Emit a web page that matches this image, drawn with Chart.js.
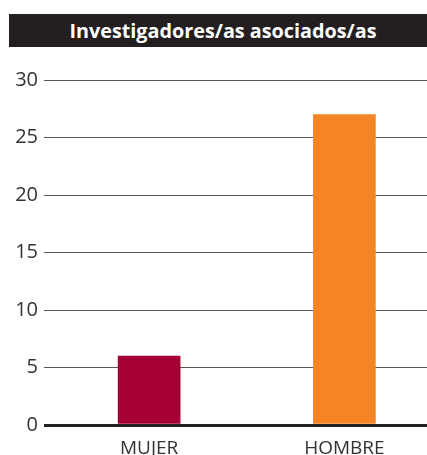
<!DOCTYPE html>
<html>
<head>
<meta charset="utf-8">
<script src="https://cdn.jsdelivr.net/npm/chart.js@4"></script>
<style>
  html, body { margin: 0; padding: 0; background: #fff; width: 427px; height: 455px; overflow: hidden; }
  .wrap { position: relative; width: 427px; height: 455px; overflow: hidden; }
  .title {
    position: absolute; left: 9px; top: 14px; width: 418px; height: 33px;
    background: #231f20; color: #fff; text-align: center;
    font: bold 19.8px "Open Sans", sans-serif; line-height: 33px; padding-left: 10px; box-sizing: border-box;
  }
  canvas { position: absolute; left: 0; top: 0; }
</style>
</head>
<body>
<div class="wrap">
  <div class="title">Investigadores/as asociados/as</div>
  <canvas id="myBarChart" width="442" height="470"></canvas>
</div>
<script>
const categories = ["MUJER", "HOMBRE"];
const values = [6, 27];
const barColors = ["#a50034", "#f48424"];
const yTicks = [0, 5, 10, 15, 20, 25, 30];

const ctx = document.getElementById("myBarChart").getContext("2d");

new Chart(ctx, {
  type: "bar",
  data: {
    labels: categories,
    datasets: [
      {
        data: values,
        backgroundColor: barColors,
        barThickness: 62,
      },
    ],
  },
  options: {
    responsive: false,
    animation: false,
    layout: { padding: { top: 80, right: 0, bottom: 0, left: 0 } },
    plugins: {
      legend: { display: false },
      tooltip: { enabled: false },
    },
    scales: {
      x: {
        grid: { display: false },
        border: { display: false },
        ticks: {
          color: "#333",
          padding: 4.5,
          font: { family: "Open Sans", size: 19 },
        },
        afterFit: (scale) => {
          scale.height = 45;
        },
      },
      y: {
        min: 0,
        max: 30,
        afterBuildTicks: (scale) => {
          scale.ticks = yTicks.map((v) => ({ value: v }));
        },
        border: { display: false },
        grid: {
          drawTicks: true,
          tickLength: 7.5,
          color: (c) => (c.tick && c.tick.value === 0 ? "#222" : "#555"),
          lineWidth: (c) => (c.tick && c.tick.value === 0 ? 3 : 1),
        },
        ticks: {
          color: "#333",
          padding: 6,
          font: { family: "Open Sans", size: 20 },
        },
        afterFit: (scale) => {
          scale.width = 51.5;
        },
      },
    },
  },
});
</script>
</body>
</html>
